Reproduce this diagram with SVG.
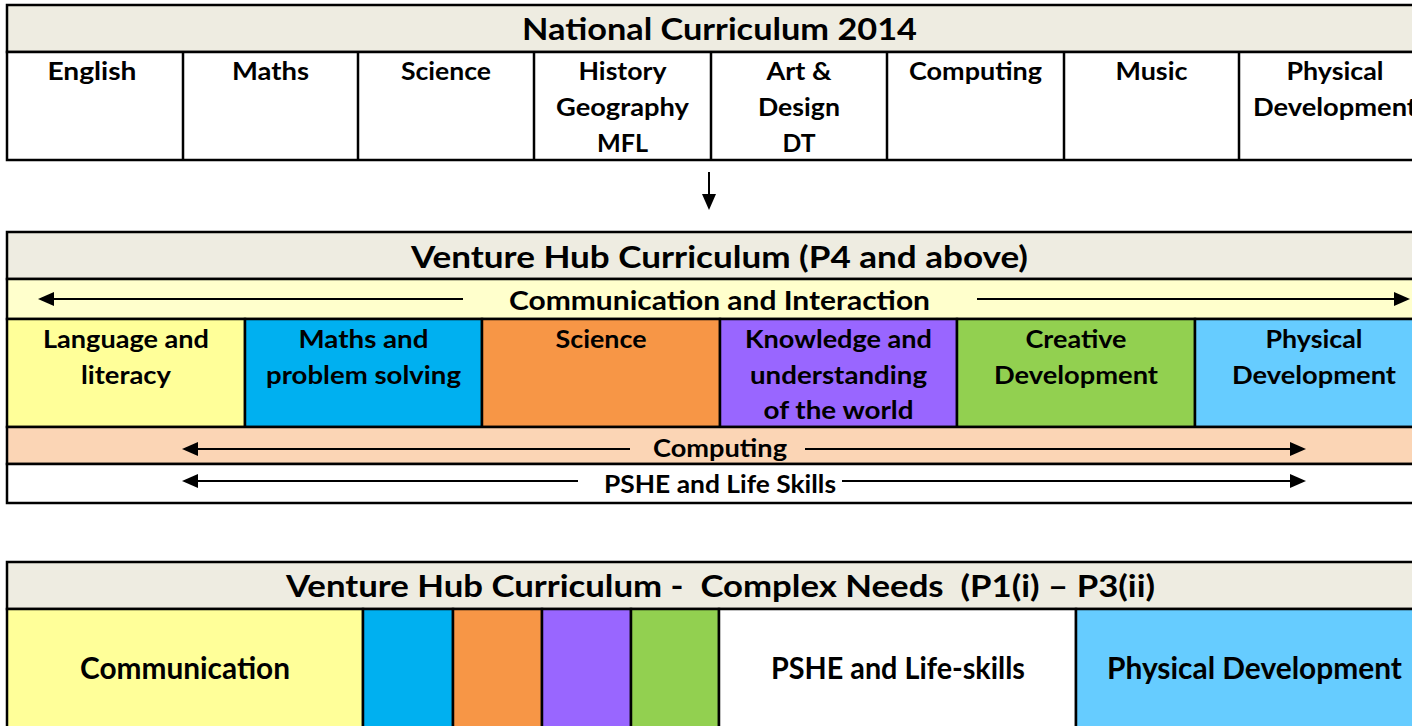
<svg xmlns="http://www.w3.org/2000/svg" width="1412" height="726" viewBox="0 0 1412 726">
<defs>
<style>
text{font-family:"Lato","Liberation Sans",sans-serif;font-weight:700;fill:#000;text-anchor:middle}
.h{font-size:31px}
.b{font-size:25.5px}
.c{font-size:27px}
.bb{font-size:30px}
.pre{white-space:pre}
.box{stroke:#000;stroke-width:2.5}
.ln{stroke:#000;stroke-width:2.5;fill:none}
.ar{stroke:#000;stroke-width:2;fill:none}
</style>
<marker id="ah" viewBox="0 0 16 14" refX="6" refY="7" markerWidth="16" markerHeight="14" markerUnits="userSpaceOnUse" orient="auto">
<path d="M0,0 L16,7 L0,14 z" fill="#000"/>
</marker>
</defs>
<rect width="1412" height="726" fill="#fff"/>

<!-- National Curriculum 2014 -->
<g id="national">
<rect x="7" y="5" width="1430" height="47" fill="#EEECE1" class="box"/>
<rect x="7" y="52" width="1430" height="108" fill="#fff" class="box"/>
<text class="h" x="719.5" y="40" textLength="395" lengthAdjust="spacingAndGlyphs">National Curriculum 2014</text>
</g>
<g id="nc-cols">
<path class="ln" d="M183,52V160M358,52V160M534,52V160M711,52V160M887,52V160M1064,52V160M1239,52V160"/>
</g>
<g id="nc-english"><text class="b" x="92" y="80" textLength="89" lengthAdjust="spacingAndGlyphs">English</text></g>
<g id="nc-maths"><text class="b" x="270.5" y="80" textLength="77" lengthAdjust="spacingAndGlyphs">Maths</text></g>
<g id="nc-science"><text class="b" x="446" y="80" textLength="90" lengthAdjust="spacingAndGlyphs">Science</text></g>
<g id="nc-humanities">
<text class="b" x="622.5" y="80" textLength="88" lengthAdjust="spacingAndGlyphs">History</text>
<text class="b" x="622.5" y="116" textLength="133" lengthAdjust="spacingAndGlyphs">Geography</text>
<text class="b" x="622.5" y="152" textLength="51" lengthAdjust="spacingAndGlyphs">MFL</text>
</g>
<g id="nc-art">
<text class="b" x="799" y="80" textLength="65" lengthAdjust="spacingAndGlyphs">Art &amp;</text>
<text class="b" x="799" y="116" textLength="82" lengthAdjust="spacingAndGlyphs">Design</text>
<text class="b" x="799" y="152" textLength="33" lengthAdjust="spacingAndGlyphs">DT</text>
</g>
<g id="nc-computing"><text class="b" x="975.5" y="80" textLength="133" lengthAdjust="spacingAndGlyphs">Computing</text></g>
<g id="nc-music"><text class="b" x="1151.5" y="80" textLength="72" lengthAdjust="spacingAndGlyphs">Music</text></g>
<g id="nc-physical">
<text class="b" x="1335" y="80" textLength="97" lengthAdjust="spacingAndGlyphs">Physical</text>
<text class="b" x="1335" y="116" textLength="164" lengthAdjust="spacingAndGlyphs">Development</text>
</g>

<!-- Venture Hub Curriculum (P4 and above) -->
<g id="vh">
<rect x="7" y="232" width="1430" height="47" fill="#EEECE1" class="box"/>
<text class="h" x="719.5" y="268" textLength="617" lengthAdjust="spacingAndGlyphs">Venture Hub Curriculum (P4 and above)</text>
</g>
<g id="vh-communication">
<rect x="7" y="279" width="1430" height="40" fill="#FFFFCC" class="box"/>
<text class="c" x="719.5" y="310" textLength="421" lengthAdjust="spacingAndGlyphs">Communication and Interaction</text>
</g>
<g id="vh-language">
<rect x="7" y="319" width="238" height="108" fill="#FFFF99" class="box"/>
<text class="b" x="126" y="348" textLength="166" lengthAdjust="spacingAndGlyphs">Language and</text>
<text class="b" x="126" y="384" textLength="90" lengthAdjust="spacingAndGlyphs">literacy</text>
</g>
<g id="vh-maths">
<rect x="245" y="319" width="237" height="108" fill="#00B0F0" class="box"/>
<text class="b" x="363.5" y="348" textLength="130" lengthAdjust="spacingAndGlyphs">Maths and</text>
<text class="b" x="363.5" y="384" textLength="195" lengthAdjust="spacingAndGlyphs">problem solving</text>
</g>
<g id="vh-science">
<rect x="482" y="319" width="238" height="108" fill="#F79646" class="box"/>
<text class="b" x="601" y="348" textLength="91" lengthAdjust="spacingAndGlyphs">Science</text>
</g>
<g id="vh-knowledge">
<rect x="720" y="319" width="237" height="108" fill="#9966FF" class="box"/>
<text class="b" x="838.5" y="348" textLength="187" lengthAdjust="spacingAndGlyphs">Knowledge and</text>
<text class="b" x="838.5" y="384" textLength="177" lengthAdjust="spacingAndGlyphs">understanding</text>
<text class="b" x="838.5" y="419" textLength="150" lengthAdjust="spacingAndGlyphs">of the world</text>
</g>
<g id="vh-creative">
<rect x="957" y="319" width="238" height="108" fill="#92D050" class="box"/>
<text class="b" x="1076" y="348" textLength="101" lengthAdjust="spacingAndGlyphs">Creative</text>
<text class="b" x="1076" y="384" textLength="164" lengthAdjust="spacingAndGlyphs">Development</text>
</g>
<g id="vh-physical">
<rect x="1195" y="319" width="242" height="108" fill="#66CCFF" class="box"/>
<text class="b" x="1314" y="348" textLength="97" lengthAdjust="spacingAndGlyphs">Physical</text>
<text class="b" x="1314" y="384" textLength="164" lengthAdjust="spacingAndGlyphs">Development</text>
</g>
<g id="vh-computing">
<rect x="7" y="427" width="1430" height="37" fill="#FBD5B5" class="box"/>
<text class="b" x="720" y="457" textLength="134" lengthAdjust="spacingAndGlyphs">Computing</text>
</g>
<g id="vh-pshe">
<rect x="7" y="464" width="1430" height="39" fill="#fff" class="box"/>
<text class="b" x="720" y="493" textLength="232" lengthAdjust="spacingAndGlyphs">PSHE and Life Skills</text>
</g>

<!-- Complex Needs -->
<g id="cn">
<rect x="7" y="562" width="1430" height="47" fill="#EEECE1" class="box"/>
<text class="h pre" x="720.5" y="597" textLength="869" lengthAdjust="spacingAndGlyphs" xml:space="preserve">Venture Hub Curriculum -  Complex Needs  (P1(i) – P3(ii)</text>
</g>
<g id="cn-communication">
<rect x="7" y="609" width="356" height="130" fill="#FFFF99" class="box"/>
<text class="bb" x="185" y="679" textLength="210" lengthAdjust="spacingAndGlyphs">Communication</text>
</g>
<g id="cn-maths"><rect x="363" y="609" width="90" height="130" fill="#00B0F0" class="box"/></g>
<g id="cn-science"><rect x="453" y="609" width="89" height="130" fill="#F79646" class="box"/></g>
<g id="cn-knowledge"><rect x="542" y="609" width="89" height="130" fill="#9966FF" class="box"/></g>
<g id="cn-creative"><rect x="631" y="609" width="88" height="130" fill="#92D050" class="box"/></g>
<g id="cn-pshe">
<rect x="719" y="609" width="357" height="130" fill="#fff" class="box"/>
<text class="bb" x="898" y="679" textLength="254" lengthAdjust="spacingAndGlyphs">PSHE and Life-skills</text>
</g>
<g id="cn-physical">
<rect x="1076" y="609" width="361" height="130" fill="#66CCFF" class="box"/>
<text class="bb" x="1254.5" y="679" textLength="295" lengthAdjust="spacingAndGlyphs">Physical Development</text>
</g>

<!-- connectors -->
<g id="connectors">
<line class="ar" x1="709" y1="172" x2="709" y2="200" marker-end="url(#ah)"/>
<line class="ar" x1="463" y1="299" x2="48" y2="299" marker-end="url(#ah)"/>
<line class="ar" x1="977" y1="299" x2="1400" y2="299" marker-end="url(#ah)"/>
<line class="ar" x1="630" y1="449" x2="192" y2="449" marker-end="url(#ah)"/>
<line class="ar" x1="805" y1="449" x2="1296" y2="449" marker-end="url(#ah)"/>
<line class="ar" x1="578" y1="481" x2="192" y2="481" marker-end="url(#ah)"/>
<line class="ar" x1="842" y1="481" x2="1296" y2="481" marker-end="url(#ah)"/>
</g>
</svg>
